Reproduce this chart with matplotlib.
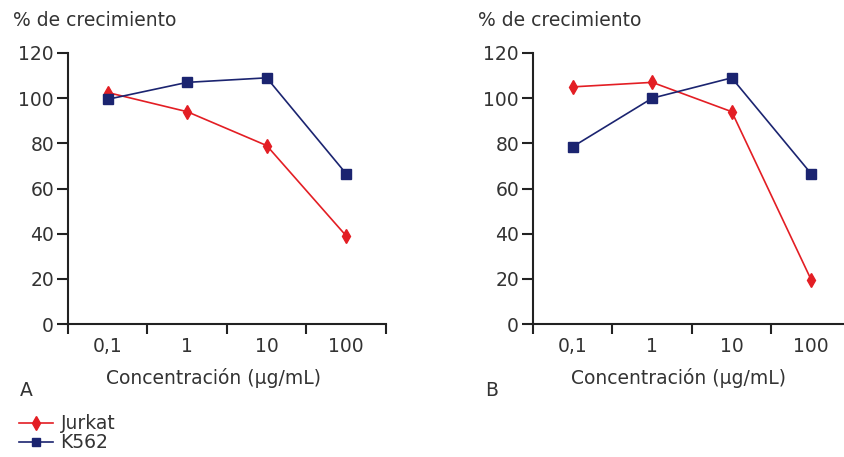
import matplotlib.pyplot as plt
from matplotlib.lines import Line2D

# datos
concentraciones = ["0,1", "1", "10", "100"]
jurkat_a = [102.5, 94, 79, 39]
k562_a = [99.5, 107, 109, 66.5]
jurkat_b = [105, 107, 94, 19.5]
k562_b = [78.5, 100, 109, 66.5]
y_ticks = [0, 20, 40, 60, 80, 100, 120]

RED = "#e31e24"
NAVY = "#1b2470"
W, H = 845, 457
FS = 13.5

plt.rcParams["font.family"] = "DejaVu Sans"
fig = plt.figure(figsize=(W / 100, H / 100), dpi=100)


def panel(left_px, jurkat, k562, letter):
    ax = fig.add_axes([left_px / W, 1 - 324 / H, 318 / W, 271 / H])
    x = list(range(len(concentraciones)))
    ax.plot(x, jurkat, color=RED, lw=1.2, marker="d", ms=7.5, mec=RED, zorder=3)
    ax.plot(x, k562, color=NAVY, lw=1.2, marker="s", ms=6.5, mec=NAVY, zorder=3)
    ax.set_xlim(-0.5, len(x) - 0.5)
    ax.set_ylim(0, 120)
    ax.set_yticks(y_ticks)
    ax.set_xticks([i - 0.5 for i in range(len(x) + 1)])
    ax.set_xticklabels([])
    ax.set_xticks(x, minor=True)
    ax.set_xticklabels(concentraciones, minor=True)
    ax.tick_params(axis="x", which="major", length=7, width=1.5, direction="out")
    ax.tick_params(axis="x", which="minor", length=0, pad=9)
    ax.tick_params(axis="y", length=8, width=1.5, pad=2)
    ax.tick_params(which="both", labelsize=FS, colors="#222222", labelcolor="#333333")
    for s in ["top", "right"]:
        ax.spines[s].set_visible(False)
    for s in ["left", "bottom"]:
        ax.spines[s].set_linewidth(1.5)
        ax.spines[s].set_color("#222222")
    fig.text((left_px - 55) / W, 1 - 20 / H, "% de crecimiento", fontsize=FS,
             color="#333333", va="center", ha="left")
    fig.text((left_px + 146) / W, 1 - 378 / H, "Concentración (µg/mL)", fontsize=FS,
             color="#333333", va="center", ha="center")
    fig.text((left_px - 48) / W, 1 - 390 / H, letter, fontsize=FS,
             color="#333333", va="center", ha="left")
    return ax


panel(68, jurkat_a, k562_a, "A")
panel(533, jurkat_b, k562_b, "B")

handles = [
    Line2D([], [], color=RED, lw=1.2, marker="d", ms=7),
    Line2D([], [], color=NAVY, lw=1.2, marker="s", ms=5.5),
]
fig.legend(handles, ["Jurkat", "K562"], loc="upper left",
           bbox_to_anchor=(10 / W, 1 - 405 / H), frameon=False, fontsize=FS,
           handlelength=1.8, handletextpad=0.4, labelspacing=0.0,
           borderpad=0, labelcolor="#333333")

fig.savefig("out.png", dpi=100, facecolor="white")
